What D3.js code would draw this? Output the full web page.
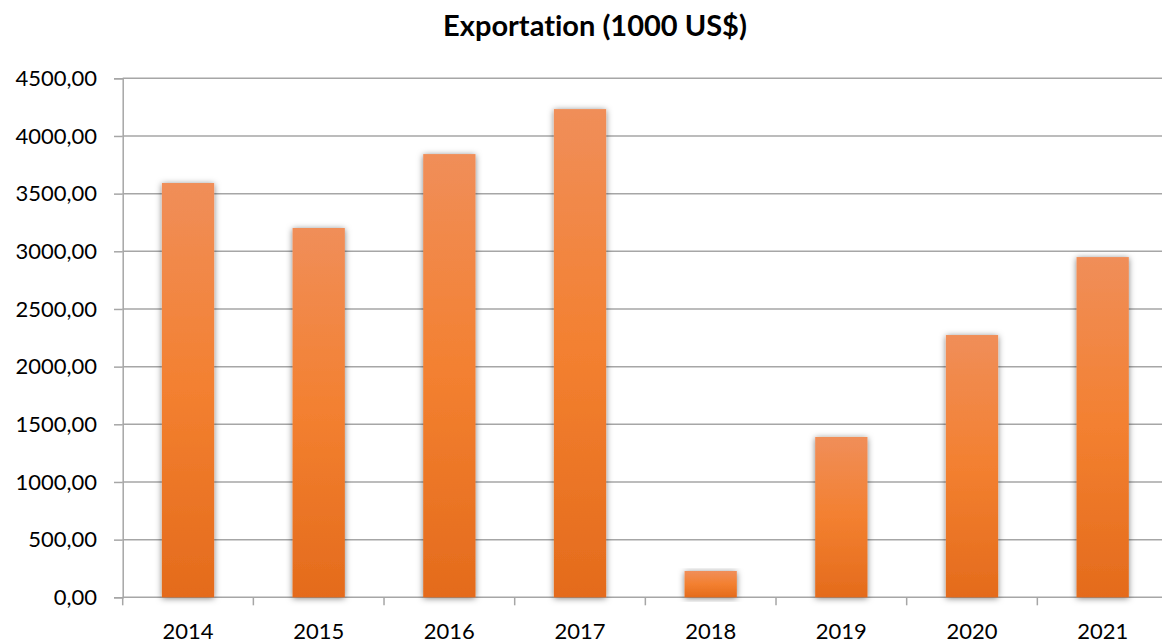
<!DOCTYPE html>
<html>
<head>
<meta charset="utf-8">
<script src="https://cdn.jsdelivr.net/npm/d3@7"></script>
<style>
  html, body { margin: 0; padding: 0; background: #ffffff; }
  svg { display: block; }
  text { font-family: "Lato", "Open Sans", sans-serif; fill: #000; font-variant-ligatures: none; }
</style>
</head>
<body>
<svg id="chart" width="1162" height="644"></svg>
<script>
// Annual exportation values, thousand US$
const years = ["2014", "2015", "2016", "2017", "2018", "2019", "2020", "2021"];
const exportValues = [3592, 3202, 3843, 4233, 228, 1390, 2274, 2950];
const yTickValues = [0, 500, 1000, 1500, 2000, 2500, 3000, 3500, 4000, 4500];
const chartTitle = "Exportation (1000 US$)";

const W = 1162, H = 644;
const margin = { left: 122.7, right: -6, top: 78.3, bottom: H - 597.3 };

const svg = d3.select("#chart");
const defs = svg.append("defs");

// Vertical gradient applied per bar: lighter top, deeper bottom
const grad = defs.append("linearGradient")
  .attr("id", "barFill").attr("x1", 0).attr("y1", 0).attr("x2", 0).attr("y2", 1);
[["0%", "#F08E59"], ["50%", "#F38030"], ["100%", "#E46B1C"]].forEach(([o, c]) =>
  grad.append("stop").attr("offset", o).attr("stop-color", c));

// Soft shadow around the bars
const shadow = defs.append("filter").attr("id", "barShadow")
  .attr("x", "-30%").attr("y", "-10%").attr("width", "160%").attr("height", "125%");
shadow.append("feDropShadow")
  .attr("dx", 0).attr("dy", 1).attr("stdDeviation", 3)
  .attr("flood-color", "#000").attr("flood-opacity", 0.5);

const x = d3.scaleBand()
  .domain(years)
  .range([margin.left, W - margin.right])
  .paddingInner(0.6)
  .paddingOuter(0.3);

const y = d3.scaleLinear()
  .domain([0, 4500])
  .range([H - margin.bottom, margin.top]);

const gridColor = "#A6A6A6";
const fmt = v => d3.format(".2f")(v).replace(".", ",");

// Vertical axis with left tick marks and labels
const yAxis = svg.append("g")
  .attr("transform", `translate(${margin.left},0)`)
  .call(d3.axisLeft(y).tickValues(yTickValues).tickSize(8.7).tickPadding(17).tickFormat(fmt));
yAxis.select(".domain").attr("stroke", gridColor).attr("stroke-width", 1.5);
yAxis.selectAll(".tick line").attr("stroke", gridColor).attr("stroke-width", 1.5);
yAxis.selectAll(".tick text").attr("font-size", 22).attr("fill", "#000");

// Horizontal gridlines
svg.append("g")
  .selectAll("line")
  .data(yTickValues.filter(v => v > 0))
  .join("line")
  .attr("x1", margin.left).attr("x2", W)
  .attr("y1", d => y(d)).attr("y2", d => y(d))
  .attr("stroke", gridColor).attr("stroke-width", 1.5);

// Category axis with tick marks at band boundaries
const xAxisG = svg.append("g").attr("transform", `translate(0,${y(0)})`);
xAxisG.append("line")
  .attr("x1", margin.left).attr("x2", W)
  .attr("stroke", gridColor).attr("stroke-width", 1.5);
const step = x.step();
const boundaries = d3.range(years.length + 1).map(i => margin.left + i * step);
xAxisG.selectAll("line.tk")
  .data(boundaries)
  .join("line").attr("class", "tk")
  .attr("x1", d => d).attr("x2", d => d)
  .attr("y1", 0).attr("y2", 8)
  .attr("stroke", gridColor).attr("stroke-width", 1.5);
xAxisG.selectAll("text")
  .data(years)
  .join("text")
  .attr("x", d => x(d) + x.bandwidth() / 2)
  .attr("y", 42)
  .attr("text-anchor", "middle")
  .attr("font-size", 22)
  .text(d => d);

// Bars
svg.append("g")
  .selectAll("rect")
  .data(years.map((yr, i) => ({ yr, v: exportValues[i] })))
  .join("rect")
  .attr("x", d => x(d.yr))
  .attr("width", x.bandwidth())
  .attr("y", d => y(d.v))
  .attr("height", d => y(0) - y(d.v))
  .attr("fill", "url(#barFill)")
  .attr("filter", "url(#barShadow)");

// Title
const title = svg.append("text")
  .attr("x", 595)
  .attr("y", 36)
  .attr("text-anchor", "middle")
  .attr("font-weight", "bold")
  .attr("font-size", 26)
  .text(chartTitle);
const tw = title.node().getComputedTextLength();
title.attr("font-size", 26 * 304 / tw);
</script>
</body>
</html>
